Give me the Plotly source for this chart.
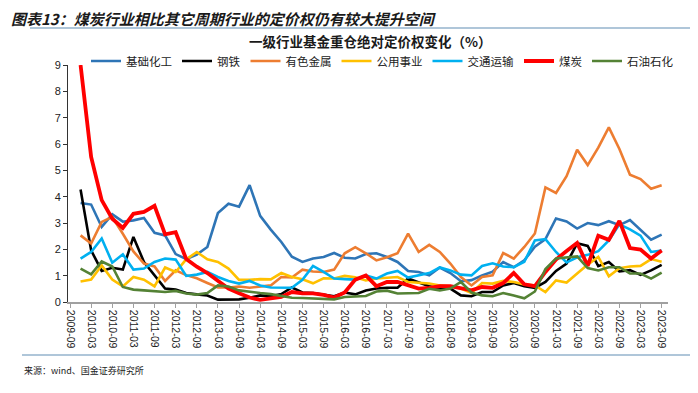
import plotly.graph_objects as go

tick_labels = ["2009-09", "2010-03", "2010-09", "2011-03", "2011-09", "2012-03", "2012-09",
               "2013-03", "2013-09", "2014-03", "2014-09", "2015-03", "2015-09", "2016-03",
               "2016-09", "2017-03", "2017-09", "2018-03", "2018-09", "2019-03", "2019-09",
               "2020-03", "2020-09", "2021-03", "2021-09", "2022-03", "2022-09", "2023-03",
               "2023-09"]

# quarter index: 0 = 2009-09 ; data runs 2009-12 .. 2023-09 (index 1..56)
quarter_idx = list(range(1, 57))

chem = [3.76, 3.70, 2.85, 3.33, 3.05, 3.10, 3.19, 2.63, 2.53, 1.82, 1.63, 1.80, 2.09, 3.38,
        3.73, 3.62, 4.44, 3.27, 2.75, 2.28, 1.72, 1.52, 1.65, 1.71, 1.86, 1.68, 1.65, 1.82,
        1.85, 1.71, 1.52, 1.18, 1.14, 1.01, 1.31, 1.10, 0.79, 0.83, 1.01, 1.15, 1.52, 1.32,
        1.58, 2.10, 2.39, 3.17, 3.06, 2.79, 3.00, 2.92, 3.07, 2.92, 3.11, 2.75, 2.37, 2.56]
steel = [4.27, 1.96, 1.18, 1.30, 1.23, 2.47, 1.52, 1.01, 0.51, 0.47, 0.34, 0.29, 0.25, 0.09,
         0.09, 0.10, 0.16, 0.25, 0.22, 0.30, 0.55, 0.36, 0.34, 0.27, 0.22, 0.36, 0.29, 0.44,
         0.51, 0.54, 0.54, 0.89, 0.76, 0.60, 0.51, 0.51, 0.25, 0.22, 0.38, 0.38, 0.63, 0.72,
         0.60, 0.54, 0.76, 1.18, 1.46, 2.23, 2.13, 1.36, 1.52, 1.16, 1.21, 1.03, 1.20, 1.41]
metals = [2.53, 2.22, 3.04, 3.23, 2.59, 1.92, 1.46, 1.35, 0.80, 1.20, 1.02, 0.90, 0.72, 0.55,
          0.55, 0.59, 0.54, 0.59, 0.63, 0.95, 0.93, 1.23, 1.16, 1.14, 1.23, 1.85, 2.08, 1.85,
          1.58, 1.70, 1.85, 2.60, 1.90, 2.17, 1.90, 1.46, 0.95, 0.63, 0.95, 1.01, 1.86, 1.65,
          2.09, 2.60, 4.35, 4.14, 4.78, 5.78, 5.20, 5.86, 6.63, 5.81, 4.83, 4.67, 4.30, 4.43]
utilities = [0.78, 0.85, 1.39, 0.85, 0.59, 0.95, 0.85, 0.59, 1.31, 1.14, 1.62, 1.90, 1.62, 1.52,
             1.27, 0.84, 0.84, 0.87, 0.86, 1.10, 0.95, 0.86, 0.71, 0.90, 0.89, 0.99, 0.94, 0.82,
             0.89, 0.93, 0.95, 0.76, 0.72, 0.70, 0.63, 0.60, 0.51, 0.34, 0.72, 0.70, 0.80, 0.76,
             0.67, 0.63, 0.38, 0.82, 0.74, 1.08, 1.42, 1.71, 0.98, 1.28, 1.35, 1.37, 1.63, 1.53]
transport = [1.65, 1.90, 2.41, 1.49, 1.81, 1.23, 1.27, 1.52, 1.65, 1.61, 0.99, 1.04, 1.14, 0.95,
             0.80, 0.70, 0.80, 0.63, 0.55, 0.54, 0.54, 0.84, 1.37, 1.14, 0.89, 0.87, 0.85, 1.01,
             0.89, 1.08, 1.18, 0.93, 1.01, 1.10, 1.31, 1.20, 1.04, 1.01, 1.37, 1.47, 1.35, 1.32,
             1.53, 2.34, 2.39, 1.90, 1.50, 1.70, 1.79, 1.93, 2.34, 2.95, 2.76, 2.52, 1.90, 1.95]
coal = [9.00, 5.51, 3.87, 3.16, 2.81, 3.35, 3.42, 3.65, 2.57, 2.65, 1.63, 1.34, 1.10, 0.82,
        0.51, 0.33, 0.17, 0.08, 0.12, 0.19, 0.38, 0.33, 0.33, 0.27, 0.17, 0.36, 0.85, 1.01,
        0.60, 0.76, 0.76, 0.63, 0.51, 0.54, 0.60, 0.60, 0.51, 0.44, 0.57, 0.54, 0.72, 1.10,
        0.67, 0.60, 1.14, 1.61, 1.94, 2.24, 1.37, 2.52, 2.36, 3.08, 2.05, 1.99, 1.65, 1.96]
petro = [1.27, 1.05, 1.54, 1.35, 0.57, 0.47, 0.44, 0.42, 0.38, 0.42, 0.32, 0.28, 0.34, 0.63,
         0.59, 0.44, 0.38, 0.34, 0.30, 0.24, 0.16, 0.15, 0.13, 0.12, 0.10, 0.19, 0.20, 0.23,
         0.40, 0.43, 0.32, 0.33, 0.34, 0.50, 0.44, 0.51, 0.76, 0.36, 0.25, 0.22, 0.34, 0.25,
         0.14, 0.40, 1.25, 1.65, 1.68, 1.73, 1.29, 1.20, 1.32, 1.32, 1.08, 1.08, 0.89, 1.12]

series = [
    ("基础化工", chem, "#2E75B6", 2.6),
    ("钢铁", steel, "#000000", 2.6),
    ("有色金属", metals, "#ED7D31", 2.6),
    ("公用事业", utilities, "#FFC000", 2.6),
    ("交通运输", transport, "#00B0F0", 2.6),
    ("煤炭", coal, "#FF0000", 3.8),
    ("石油石化", petro, "#548235", 2.6),
]

fig = go.Figure()
for name, vals, color, w in series:
    fig.add_trace(go.Scatter(x=quarter_idx, y=vals, name=name, mode="lines",
                             line=dict(color=color, width=w)))

# the page body adds an 8px offset; work in reference-image pixels and subtract it
OFF = 8
W, H = 698 - OFF, 393 - OFF
L, T = 68 - OFF, 65 - OFF
R = W - (668 - OFF)
B = H - (302 - OFF)
pw, ph = W - L - R, H - T - B

def px(x):
    return (x - OFF - L) / pw

def py(y):
    return (H - B - (y - OFF)) / ph

cjk = "Noto Sans CJK SC"
fig.update_layout(
    width=W, height=H,
    margin=dict(l=L, r=R, t=T, b=B, autoexpand=False),
    paper_bgcolor="white", plot_bgcolor="white",
    showlegend=True,
    legend=dict(orientation="h", x=px(86), y=py(61), xanchor="left", yanchor="middle",
                font=dict(family=cjk, size=11.5, color="#222"), itemwidth=30,
                tracegroupgap=0, bgcolor="rgba(0,0,0,0)"),
    xaxis=dict(range=[-0.19, 56.6], tickmode="array",
               tickvals=list(range(0, 57, 2)), ticktext=tick_labels,
               tickangle=90, showgrid=False, zeroline=False,
               showline=True, linecolor="#A0A0A0", linewidth=1.5,
               ticks="outside", tickcolor="#A0A0A0", ticklen=4,
               tickfont=dict(family="Liberation Sans", size=10.5, color="#222")),
    yaxis=dict(range=[0, 9], dtick=1, showgrid=False, zeroline=False,
               showline=True, linecolor="#333", linewidth=1,
               ticks="outside", tickcolor="#333", ticklen=4,
               tickfont=dict(family="Liberation Sans", size=11, color="#222")),
    shapes=[
        dict(type="line", xref="paper", yref="paper", x0=px(30), x1=px(698),
             y0=py(28), y1=py(28), line=dict(color="#95B3CC", width=1.5)),
        dict(type="line", xref="paper", yref="paper", x0=px(22), x1=px(698),
             y0=py(355), y1=py(355), line=dict(color="#95B3CC", width=1.5)),
    ],
    annotations=[
        dict(text="<b><i>图表13：煤炭行业相比其它周期行业的定价权仍有较大提升空间</i></b>",
             xref="paper", yref="paper", x=px(9), y=py(19), xanchor="left", yanchor="middle",
             showarrow=False, font=dict(family=cjk, size=15, color="#1a1a1a")),
        dict(text="<b>一级行业基金重仓绝对定价权变化（%）</b>",
             xref="paper", yref="paper", x=px(370), y=py(41), xanchor="center", yanchor="middle",
             showarrow=False, font=dict(family=cjk, size=13.5, color="#1a1a1a")),
        dict(text="来源：wind、国金证券研究所",
             xref="paper", yref="paper", x=px(22), y=py(370), xanchor="left", yanchor="middle",
             showarrow=False, font=dict(family=cjk, size=9, color="#222")),
    ],
)

fig.write_html("out.html")
